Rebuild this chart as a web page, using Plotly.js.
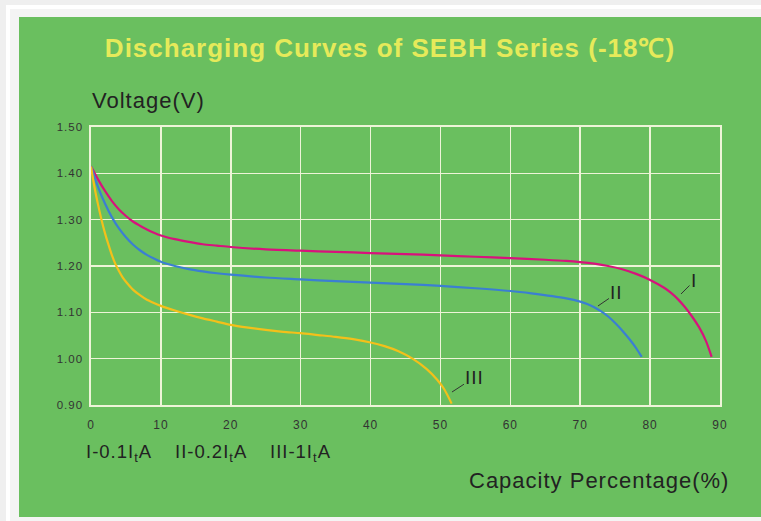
<!DOCTYPE html>
<html>
<head>
<meta charset="utf-8">
<script src="https://cdn.plot.ly/plotly-3.0.1.min.js"></script>
<style>
  html, body { margin: 0; padding: 0; width: 761px; height: 521px; overflow: hidden; background: #efefef; }
  #frame { position: absolute; left: 6px; top: 5px; width: 760px; height: 520px; background: #f4f4f4; border-left: 4px solid #ffffff; border-top: 4px solid #ffffff; }
  #panel { position: absolute; left: 19px; top: 17px; width: 742px; height: 500px; background: #6abf5f; }
  #chart { width: 742px; height: 500px; }
  .gtitle { letter-spacing: 1px; }
  .xtick text, .ytick text { letter-spacing: 1px; }
  .annotation-text { letter-spacing: 1px; }
</style>
</head>
<body>
<div id="frame"></div>
<div id="panel"><div id="chart"></div></div>
<script>
// Curve I (0.1 ItA)
const xI = [0, 1, 2, 3, 4, 5, 6, 7, 8, 9, 10, 12, 14, 16, 18, 20, 25, 30, 35, 40, 45, 50, 55, 60, 65, 68, 70, 72, 74, 76, 78, 80, 82, 83, 84, 85, 86, 87, 88, 88.8];
const vI = [1.415, 1.387, 1.362, 1.340, 1.322, 1.308, 1.296, 1.287, 1.279, 1.272, 1.266, 1.258, 1.252, 1.247, 1.244, 1.241, 1.236, 1.233, 1.2305, 1.228, 1.2257, 1.223, 1.220, 1.217, 1.2135, 1.211, 1.2085, 1.205, 1.200, 1.193, 1.183, 1.170, 1.153, 1.142, 1.128, 1.111, 1.091, 1.068, 1.038, 1.004];
// Curve II (0.2 ItA)
const xII = [0, 1, 2, 3, 4, 5, 6, 7, 8, 9, 10, 12, 14, 16, 18, 20, 25, 30, 35, 40, 45, 50, 55, 60, 63, 66, 68, 70, 71, 72, 73, 74, 75, 76, 77, 78, 78.8];
const vII = [1.415, 1.371, 1.335, 1.305, 1.281, 1.262, 1.2465, 1.234, 1.224, 1.216, 1.209, 1.200, 1.1934, 1.1884, 1.1844, 1.1812, 1.1752, 1.1712, 1.1672, 1.164, 1.161, 1.157, 1.152, 1.146, 1.141, 1.135, 1.130, 1.123, 1.118, 1.111, 1.102, 1.091, 1.077, 1.061, 1.043, 1.023, 1.004];
// Curve III (1 ItA)
const xIII = [0, 0.5, 1, 1.5, 2, 2.5, 3, 3.5, 4, 4.5, 5, 6, 7, 8, 9, 10, 12, 14, 16, 18, 20, 22.5, 25, 27.5, 30, 32.5, 35, 37.5, 40, 42, 44, 46, 48, 49.5, 50.5, 51.6];
const vIII = [1.415, 1.370, 1.333, 1.300, 1.271, 1.246, 1.223, 1.204, 1.189, 1.176, 1.166, 1.149, 1.137, 1.127, 1.120, 1.114, 1.104, 1.095, 1.087, 1.080, 1.073, 1.067, 1.062, 1.058, 1.055, 1.051, 1.047, 1.042, 1.035, 1.027, 1.016, 1.000, 0.978, 0.955, 0.935, 0.903];

const xTicks = [0, 10, 20, 30, 40, 50, 60, 70, 80, 90];
const yTicks = [0.9, 1.0, 1.1, 1.2, 1.3, 1.4, 1.5];
const yTickText = ['0.90', '1.00', '1.10', '1.20', '1.30', '1.40', '1.50'];

const titleText = 'Discharging Curves of SEBH Series (-18℃)';
const yTitle = 'Voltage(V)';
const xTitle = 'Capacity Percentage(%)';
const legendTexts = ['I-0.1I<sub>t</sub>A', 'II-0.2I<sub>t</sub>A', 'III-1I<sub>t</sub>A'];
const curveLabels = ['I', 'II', 'III'];

const colors = ['#d8127c', '#3b7fd2', '#f3c01a'];
const grid = '#eef4d8';
const font = 'Liberation Sans, Arial, sans-serif';

const traces = [
  {x: xI, y: vI, mode: 'lines', line: {color: colors[0], width: 2.2, shape: 'spline', smoothing: 0.8}, hoverinfo: 'skip'},
  {x: xII, y: vII, mode: 'lines', line: {color: colors[1], width: 2.2, shape: 'spline', smoothing: 0.8}, hoverinfo: 'skip'},
  {x: xIII, y: vIII, mode: 'lines', line: {color: colors[2], width: 2.2, shape: 'spline', smoothing: 0.8}, hoverinfo: 'skip'}
];

const annotations = [
  {xref: 'paper', yref: 'paper', x: -0.002, y: 1.094, xanchor: 'left', yanchor: 'middle', text: yTitle, showarrow: false, font: {family: font, size: 22, color: '#222'}},
  {xref: 'paper', yref: 'paper', x: 1.0175, y: -0.273, xanchor: 'right', yanchor: 'middle', text: xTitle, showarrow: false, font: {family: font, size: 22, color: '#222'}},
  {xref: 'paper', yref: 'paper', x: (84 - 91) / 629, y: -0.172, xanchor: 'left', yanchor: 'middle', text: legendTexts[0], showarrow: false, font: {family: font, size: 18.5, color: '#222'}},
  {xref: 'paper', yref: 'paper', x: (173 - 91) / 629, y: -0.172, xanchor: 'left', yanchor: 'middle', text: legendTexts[1], showarrow: false, font: {family: font, size: 18.5, color: '#222'}},
  {xref: 'paper', yref: 'paper', x: (268 - 91) / 629, y: -0.172, xanchor: 'left', yanchor: 'middle', text: legendTexts[2], showarrow: false, font: {family: font, size: 18.5, color: '#222'}},
  {x: 84.42, y: 1.1396, ax: 13, ay: -13, text: curveLabels[0], showarrow: true, arrowhead: 0, arrowwidth: 1, arrowcolor: '#333', standoff: 0, font: {family: font, size: 19, color: '#222'}},
  {x: 72.54, y: 1.1137, ax: 19, ay: -13, text: curveLabels[1], showarrow: true, arrowhead: 0, arrowwidth: 1, arrowcolor: '#333', standoff: 0, font: {family: font, size: 19, color: '#222'}},
  {x: 51.65, y: 0.928, ax: 23, ay: -15, text: curveLabels[2], showarrow: true, arrowhead: 0, arrowwidth: 1, arrowcolor: '#333', standoff: 0, font: {family: font, size: 19, color: '#222'}}
];

const layout = {
  width: 742, height: 500,
  paper_bgcolor: 'rgba(0,0,0,0)', plot_bgcolor: 'rgba(0,0,0,0)',
  margin: {l: 72, r: 41, t: 110, b: 112},
  showlegend: false,
  title: {text: titleText, x: 0.5, xanchor: 'center', xref: 'container', y: 0.938, yanchor: 'middle', yref: 'container',
          font: {family: font, size: 26, color: '#e6ea5a', weight: 'bold'}},
  xaxis: {range: [0, 90], tickvals: xTicks, ticktext: xTicks.map(String), showgrid: true, gridcolor: grid, gridwidth: 1.6,
          zeroline: false, showline: true, linecolor: grid, linewidth: 1.6, mirror: true, ticks: '', ticklabelstandoff: 8,
          tickfont: {family: font, size: 12, color: '#333'}, fixedrange: true},
  yaxis: {range: [0.9, 1.5], tickvals: yTicks, ticktext: yTickText, showgrid: true, gridcolor: grid, gridwidth: 1.6,
          zeroline: false, showline: true, linecolor: grid, linewidth: 1.6, mirror: true, ticks: '', ticklabelstandoff: 4,
          tickfont: {family: font, size: 11.5, color: '#333'}, fixedrange: true},
  annotations: annotations
};

Plotly.newPlot('chart', traces, layout, {staticPlot: true, displayModeBar: false});
</script>
</body>
</html>
